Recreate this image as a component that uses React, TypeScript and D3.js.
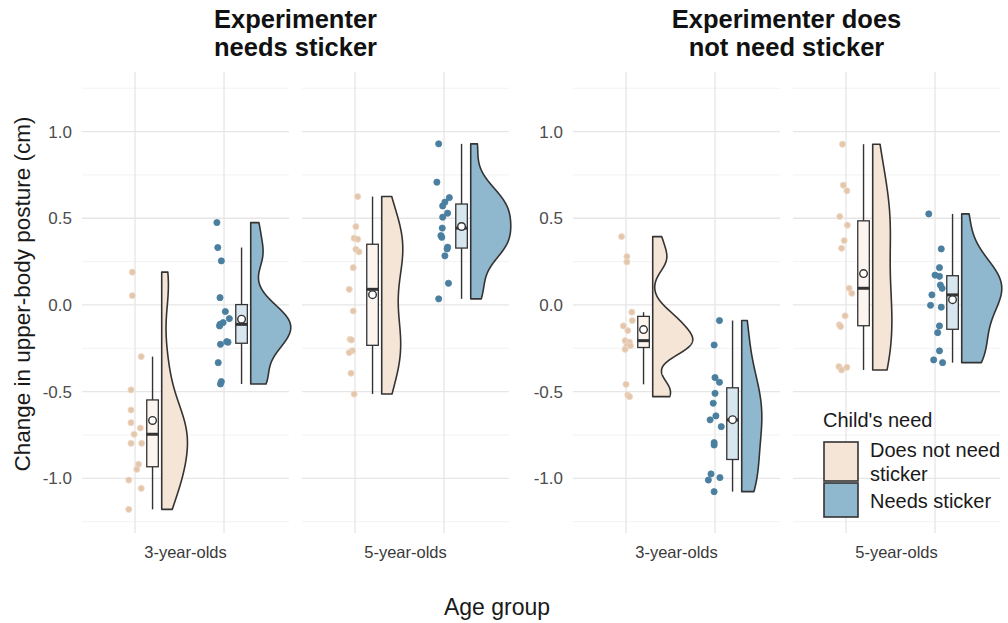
import React from "react";
import * as d3 from "d3";

// facets and groups
const experimenterTitles = [
  ["Experimenter", "needs sticker"],
  ["Experimenter does", "not need sticker"],
];
const ageGroups = ["3-year-olds", "5-year-olds"];
const childNeeds = ["Does not need\nsticker", "Needs sticker"];
const needFill = ["#f5e5d6", "#8fb7cd"];
const boxFill = ["#fbf4ef", "#d7e6ef"];
const pointFill = ["#e4c6ab", "#4a7f9f"];
const pointStroke = ["#efdccb", "#4a7f9f"];

const yTicks = [-1, -0.5, 0, 0.5, 1];
const yMinor = [-1.25, -0.75, -0.25, 0.25, 0.75, 1.25];

// experimenter needs sticker, 3-year-olds
const en3Dn = [0.189, 0.054, -0.298, -0.49, -0.606, -0.679, -0.71, -0.746, -0.798, -0.798, -0.919, -0.948, -1.01, -1.058, -1.179];
const en3DnJit = [-0.03, -0.03, 0.07, -0.045, -0.045, -0.045, 0.06, -0.01, -0.045, 0.075, 0.04, 0.02, -0.07, 0.07, -0.07];
const en3Ns = [0.475, 0.331, 0.254, 0.042, -0.038, -0.079, -0.102, -0.112, -0.121, -0.212, -0.215, -0.227, -0.333, -0.442, -0.456];
const en3NsJit = [-0.08, -0.07, -0.03, -0.045, 0.015, 0.06, -0.01, -0.045, -0.05, 0.03, 0.045, -0.04, -0.065, -0.03, -0.04];
// experimenter needs sticker, 5-year-olds
const en5Dn = [0.625, 0.452, 0.385, 0.379, 0.321, 0.306, 0.215, 0.09, -0.035, -0.198, -0.202, -0.264, -0.275, -0.394, -0.514];
const en5DnJit = [0.03, 0.01, -0.01, 0.03, 0.01, 0.045, -0.02, -0.065, -0.02, -0.055, -0.04, -0.03, -0.065, -0.045, -0.01];
const en5Ns = [0.929, 0.708, 0.619, 0.593, 0.571, 0.529, 0.506, 0.443, 0.4, 0.39, 0.333, 0.323, 0.283, 0.125, 0.035];
const en5NsJit = [-0.06, -0.08, 0.06, 0.01, -0.015, 0.04, -0.015, -0.02, -0.035, -0.025, 0.04, 0.035, 0.01, 0.05, -0.06];
// experimenter does not need sticker, 3-year-olds
const ed3Dn = [0.394, 0.279, 0.248, -0.042, -0.09, -0.121, -0.148, -0.206, -0.215, -0.235, -0.235, -0.256, -0.458, -0.52, -0.529];
const ed3DnJit = [-0.05, 0.01, 0.01, 0.065, 0.07, -0.03, 0.02, -0.01, 0.04, 0.01, 0.05, -0.01, 0, 0.02, 0.04];
const ed3Ns = [-0.09, -0.231, -0.419, -0.446, -0.51, -0.567, -0.64, -0.663, -0.702, -0.794, -0.808, -0.975, -0.996, -1.01, -1.077];
const ed3NsJit = [0.05, -0.01, 0, 0.05, 0, -0.02, 0.01, -0.055, 0.07, -0.01, -0.01, -0.045, 0.055, -0.075, -0.01];
// experimenter does not need sticker, 5-year-olds
const ed5Dn = [0.927, 0.691, 0.658, 0.51, 0.46, 0.371, 0.327, 0.096, 0.067, -0.063, -0.115, -0.125, -0.356, -0.36, -0.375];
const ed5DnJit = [-0.04, -0.03, 0.01, -0.07, 0.015, -0.02, -0.05, 0.035, 0.065, -0.01, -0.075, -0.06, -0.08, 0.01, -0.05];
const ed5Ns = [0.525, 0.323, 0.215, 0.172, 0.165, 0.115, 0.096, 0.058, -0.002, -0.013, -0.121, -0.16, -0.265, -0.317, -0.333];
const ed5NsJit = [-0.07, 0.07, 0.05, 0, 0.05, 0.06, 0.08, -0.035, -0.05, 0.07, 0.05, 0.03, 0.05, -0.015, 0.085];

const panelData = [
  [[en3Dn, en3DnJit], [en3Ns, en3NsJit]],
  [[en5Dn, en5DnJit], [en5Ns, en5NsJit]],
  [[ed3Dn, ed3DnJit], [ed3Ns, ed3NsJit]],
  [[ed5Dn, ed5DnJit], [ed5Ns, ed5NsJit]],
];

const W = 1008;
const H = 623;
const panelLefts = [82, 302, 573, 793];
const panelW = 207;
const panelTop = 72;
const panelBottom = 533;
const FONT = "'Liberation Sans', Arial, sans-serif";

const y = d3.scaleLinear().domain([-1.3155, 1.3435]).range([panelBottom, panelTop]);

function gauss(u) {
  return Math.exp(-0.5 * u * u) / Math.sqrt(2 * Math.PI);
}

// gaussian kde, bw.nrd0, trimmed to data range
function kde(values) {
  const sorted = [...values].sort(d3.ascending);
  const n = sorted.length;
  const sd = d3.deviation(sorted);
  const iqr = d3.quantileSorted(sorted, 0.75) - d3.quantileSorted(sorted, 0.25);
  const bw = 0.9 * Math.min(sd, iqr / 1.34) * Math.pow(n, -0.2);
  const lo = sorted[0];
  const hi = sorted[n - 1];
  return d3.range(512).map((i) => {
    const v = lo + ((hi - lo) * i) / 511;
    return { v, d: d3.mean(sorted, (x) => gauss((v - x) / bw)) / bw };
  });
}

function boxStats(values) {
  const s = [...values].sort(d3.ascending);
  const q1 = d3.quantileSorted(s, 0.25);
  const med = d3.quantileSorted(s, 0.5);
  const q3 = d3.quantileSorted(s, 0.75);
  const iqr = q3 - q1;
  const lo = d3.min(s.filter((v) => v >= q1 - 1.5 * iqr));
  const hi = d3.max(s.filter((v) => v <= q3 + 1.5 * iqr));
  return { q1, med, q3, lo, hi, mean: d3.mean(s) };
}

function Panel({ idx }) {
  const left = panelLefts[idx];
  const x = d3.scaleLinear().domain([0.4045, 2.73]).range([left, left + panelW]);
  const groups = panelData[idx];
  const dens = groups.map((g) => kde(g[0]));
  const maxD = d3.max(dens, (ds) => d3.max(ds, (p) => p.d));
  const width = d3.scaleLinear().domain([0, maxD]).range([0, 0.45]);

  return (
    <g>
      {yMinor.map((t) => (
        <line key={"mi" + t} x1={left} x2={left + panelW} y1={y(t)} y2={y(t)} stroke="#f0f0f0" strokeWidth={0.9} />
      ))}
      {yTicks.map((t) => (
        <line key={"ma" + t} x1={left} x2={left + panelW} y1={y(t)} y2={y(t)} stroke="#e6e6e6" strokeWidth={1.3} />
      ))}
      {[1, 2].map((p) => (
        <line key={"v" + p} x1={x(p)} x2={x(p)} y1={panelTop} y2={panelBottom} stroke="#e6e6e6" strokeWidth={1.3} />
      ))}
      {groups.map((g, gi) => {
        const pos = gi + 1;
        const base = pos + 0.3;
        const area = d3
          .area()
          .y((d) => y(d.v))
          .x0(() => x(base))
          .x1((d) => x(base + width(d.d)));
        const st = boxStats(g[0]);
        const bc = pos + 0.197;
        const bw = 0.065;
        return (
          <g key={gi}>
            {g[0].map((v, i) => (
              <circle
                key={i}
                cx={x(pos + g[1][i])}
                cy={y(v)}
                r={3.1}
                fill={pointFill[gi]}
                stroke={pointStroke[gi]}
                strokeWidth={0.8}
              />
            ))}
            <path d={area(dens[gi])} fill={needFill[gi]} stroke="#333" strokeWidth={1.6} strokeLinejoin="round" />
            <line x1={x(bc)} x2={x(bc)} y1={y(st.hi)} y2={y(st.q3)} stroke="#333" strokeWidth={1.4} />
            <line x1={x(bc)} x2={x(bc)} y1={y(st.q1)} y2={y(st.lo)} stroke="#333" strokeWidth={1.4} />
            <rect
              x={x(bc - bw)}
              y={y(st.q3)}
              width={x(bc + bw) - x(bc - bw)}
              height={y(st.q1) - y(st.q3)}
              fill={boxFill[gi]}
              stroke="#333"
              strokeWidth={1.3}
            />
            <line x1={x(bc - bw)} x2={x(bc + bw)} y1={y(st.med)} y2={y(st.med)} stroke="#333" strokeWidth={3} />
            <circle cx={x(bc)} cy={y(st.mean)} r={3.8} fill="white" stroke="#333" strokeWidth={1.4} />
          </g>
        );
      })}
      <text
        x={left + panelW / 2}
        y={558}
        textAnchor="middle"
        fontSize={16.5}
        fill="#3a3a3a"
        fontFamily={FONT}
      >
        {ageGroups[idx % 2]}
      </text>
    </g>
  );
}

export default function App() {
  return (
    <svg width={W} height={H} style={{ position: "absolute", left: 0, top: 0, background: "white" }} fontFamily={FONT}>
      <rect width={W} height={H} fill="white" />
      {[0, 2].map((p) =>
        yTicks.map((t) => (
          <text
            key={p + "_" + t}
            x={panelLefts[p] - 10}
            y={y(t)}
            dy="0.36em"
            textAnchor="end"
            fontSize={17}
            fill="#4d4d4d"
          >
            {d3.format(".1f")(t).replace("−", "-")}
          </text>
        ))
      )}
      {[0, 1, 2, 3].map((i) => (
        <Panel key={i} idx={i} />
      ))}
      {experimenterTitles.map((lines, i) => {
        const cx = (panelLefts[i * 2] + panelLefts[i * 2 + 1] + panelW) / 2;
        return (
          <text key={i} x={cx} textAnchor="middle" fontWeight="bold" fontSize={25.5} fill="#111">
            <tspan x={cx} y={28}>
              {lines[0]}
            </tspan>
            <tspan x={cx} y={56}>
              {lines[1]}
            </tspan>
          </text>
        );
      })}
      <text
        transform={"translate(30," + 294 + ") rotate(-90)"}
        textAnchor="middle"
        fontSize={22.5}
        fill="#1a1a1a"
      >
        Change in upper-body posture (cm)
      </text>
      <text x={497} y={615} textAnchor="middle" fontSize={23} fill="#1a1a1a">
        Age group
      </text>
      <g>
        <text x={823} y={427} fontSize={20} fill="#1a1a1a">
          Child's need
        </text>
        {childNeeds.map((lab, i) => {
          const top = i === 0 ? 442 : 483;
          const h = i === 0 ? 39 : 34;
          const parts = lab.split("\n");
          return (
            <g key={i}>
              <rect x={824} y={top} width={34} height={h} fill={needFill[i]} stroke="#333" strokeWidth={1.6} />
              {parts.map((p, j) => (
                <text key={j} x={870} y={i === 0 ? 457 + j * 24 : 508} fontSize={20} fill="#1a1a1a">
                  {p}
                </text>
              ))}
            </g>
          );
        })}
      </g>
    </svg>
  );
}
